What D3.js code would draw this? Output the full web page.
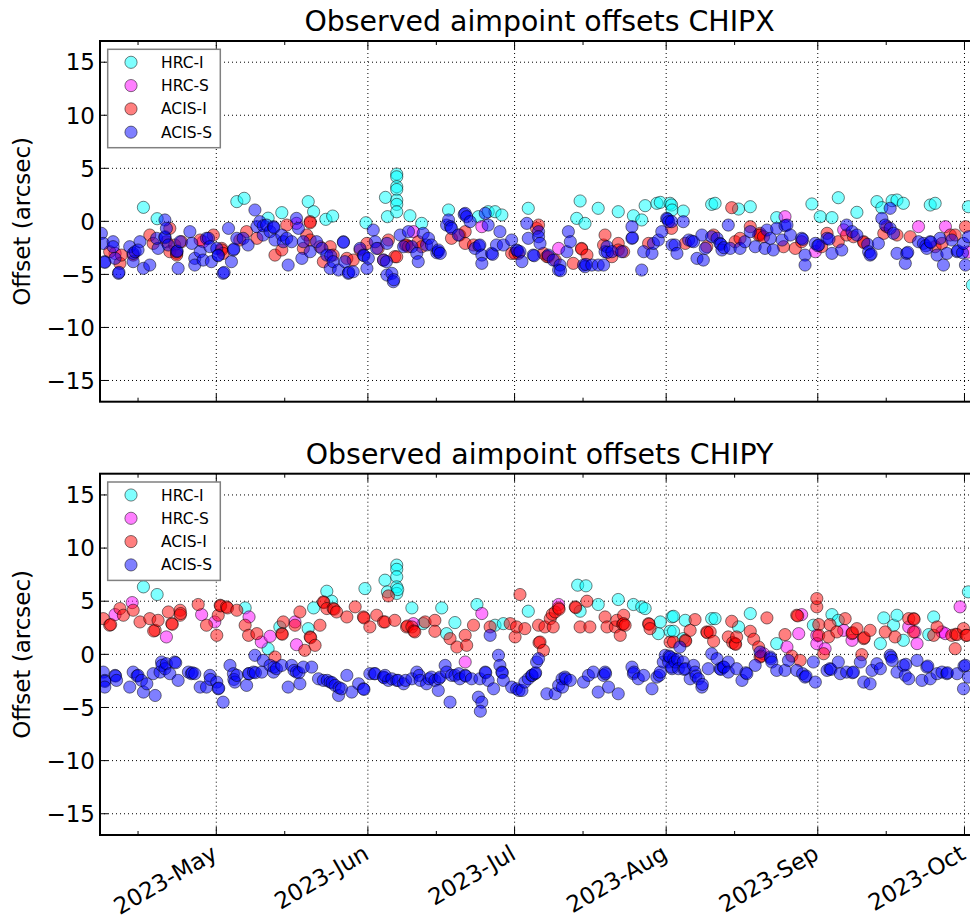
<!DOCTYPE html>
<html><head><meta charset="utf-8">
<script src="https://cdn.jsdelivr.net/npm/d3@7"></script>
<style>body{margin:0;background:#fff}svg{display:block;font-family:"DejaVu Sans",sans-serif}</style>
</head><body><svg id="c" width="970" height="920"></svg>
<script>
// Values are [day of year 2023 (decimal), offset in arcsec]
const chipxHrcI = [[106.1,1.32],[108.9,0.25],[125.2,1.86],[126.7,2.17],[131.6,0.3],[134.4,0.82],[139.8,1.86],[140.9,0.91],[143.4,0.19],[144.8,0.5],[151.6,-0.13],[155.6,2.26],[156.0,0.44],[157.9,4.46],[157.9,4.2],[157.9,3.27],[157.9,3.0],[157.9,2.0],[157.9,1.6],[157.9,0.9],[160.6,0.53],[163.0,-0.19],[168.5,1.07],[174.6,0.44],[176.6,0.91],[178.0,0.91],[179.4,0.6],[184.8,1.23],[195.4,1.92],[194.7,0.28],[196.4,-0.19],[199.1,1.23],[203.2,0.91],[206.3,0.53],[208.0,0.13],[208.7,1.48],[211.1,1.7],[211.8,1.79],[213.8,1.7],[214.1,1.54],[214.2,1.07],[216.5,0.97],[222.3,1.6],[223.0,1.7],[227.8,1.16],[230.2,1.38],[235.6,0.35],[242.8,1.64],[244.5,0.44],[246.9,0.35],[248.2,2.23],[252.0,0.85],[256.1,1.86],[257.1,1.29],[259.2,1.95],[260.2,2.01],[261.5,1.7],[267.0,1.54],[268.0,1.7],[274.8,1.38],[275.6,-6.0]];
const chipxHrcS = [[100.3,-3.02],[118.3,-1.92],[137.4,-0.19],[161.3,-0.97],[175.3,-0.5],[191.0,-2.55],[237.3,0.44],[243.5,-2.86],[249.3,-0.8],[264.6,-0.5],[270.1,-0.5],[274.7,-2.9]];
const chipxAcisI = [[99.2,-2.86],[101.3,-3.96],[101.6,-3.18],[104.0,-3.18],[107.4,-1.29],[108.1,-2.08],[110.8,-1.92],[111.5,-0.66],[111.5,-2.86],[112.5,-2.23],[112.9,-3.02],[112.9,-3.18],[113.9,-1.92],[117.7,-1.76],[120.4,-1.29],[122.1,-2.55],[122.1,-2.7],[122.4,-3.02],[125.8,-1.76],[127.2,-0.97],[129.3,-1.6],[133.0,-3.18],[134.4,-2.7],[135.4,-0.35],[138.8,-2.55],[139.5,-1.29],[140.2,-0.03],[140.2,-0.13],[140.2,-1.76],[142.2,-2.39],[142.9,-3.8],[144.3,-2.39],[144.9,-3.18],[147.7,-3.49],[149.0,-3.65],[150.4,-2.7],[151.8,-2.08],[154.1,-2.55],[155.2,-3.65],[156.2,-1.76],[157.5,-3.33],[157.9,-3.34],[159.6,-2.23],[159.9,-2.23],[160.3,-2.39],[162.3,-1.92],[163.0,-2.39],[169.1,-1.6],[170.8,-1.29],[171.9,-0.97],[171.9,-2.08],[173.6,-2.23],[181.4,-3.02],[182.1,-3.02],[182.8,-3.02],[186.5,-0.66],[186.9,-0.35],[187.9,-3.02],[188.6,-3.33],[188.9,-3.33],[190.3,-3.65],[194.0,-3.96],[195.7,-2.55],[195.7,-2.61],[196.8,-3.18],[200.2,-2.23],[200.5,-1.29],[201.9,-3.33],[203.2,-2.08],[203.2,-2.7],[204.3,-2.86],[209.4,-2.08],[214.1,-0.66],[216.9,-2.08],[221.3,-2.39],[222.7,-1.29],[226.4,1.29],[227.1,-1.92],[228.1,-1.6],[230.2,-0.5],[231.9,-1.29],[232.2,-1.13],[232.2,-1.29],[232.9,-1.45],[237.0,-2.39],[239.4,-2.55],[240.7,-1.92],[244.8,-2.39],[245.9,-1.13],[248.2,-1.92],[249.9,-1.29],[251.3,-1.45],[253.4,-1.92],[253.4,-2.0],[257.5,-1.13],[258.1,-0.5],[260.2,-1.29],[262.9,-1.45],[268.0,-2.39],[269.4,-2.08],[271.1,-1.29],[272.1,-1.29],[274.2,-0.5]];
const chipxAcisS = [[97.5,-1.13],[97.9,-2.08],[98.2,-3.8],[98.2,-3.87],[99.9,-1.92],[99.9,-2.39],[100.3,-3.49],[101.0,-4.9],[101.1,-4.81],[103.3,-2.39],[104.0,-3.8],[104.0,-3.02],[104.4,-2.86],[105.4,-1.92],[105.0,-2.7],[106.1,-4.43],[107.4,-4.12],[109.1,-2.55],[108.8,-1.6],[110.5,0.13],[110.5,-1.45],[110.5,-1.54],[111.2,-2.23],[110.8,-0.66],[112.9,-2.86],[113.0,-2.8],[113.2,-4.43],[113.6,-1.92],[115.6,-0.97],[116.0,-2.08],[116.6,-3.49],[116.6,-4.12],[117.7,-2.86],[118.3,-3.65],[119.0,-1.6],[119.4,-1.6],[119.7,-2.39],[120.0,-3.8],[121.1,-2.55],[121.4,-3.18],[121.4,-3.24],[122.4,-4.9],[122.6,-4.81],[123.5,-0.66],[124.1,-3.8],[124.5,-2.7],[124.6,-2.61],[125.2,-1.6],[126.5,-1.6],[127.5,-2.23],[128.9,1.07],[129.3,-0.5],[129.9,-0.03],[130.6,-1.29],[130.6,-0.41],[131.3,-0.35],[132.0,-0.97],[132.7,-0.5],[132.8,-0.6],[133.0,-1.76],[134.4,-1.29],[134.7,-1.92],[135.4,-1.6],[135.7,-4.12],[136.4,-1.92],[137.4,0.28],[137.8,-0.66],[138.5,-3.49],[138.8,-1.92],[140.2,-2.86],[141.5,-1.92],[142.6,-2.55],[143.6,-3.18],[144.3,-4.43],[144.4,-3.24],[144.9,-3.8],[146.0,-4.59],[147.0,-1.92],[147.0,-1.98],[147.3,-3.8],[148.0,-4.9],[148.1,-4.81],[149.0,-4.75],[150.4,-2.55],[151.1,-3.18],[151.2,-3.24],[151.8,-4.43],[152.1,-3.49],[153.1,-0.82],[153.5,-1.92],[153.8,-2.55],[155.2,-3.65],[155.9,-2.08],[155.9,-5.06],[155.8,-3.8],[156.9,-4.9],[157.2,-5.69],[157.3,-5.5],[158.6,-1.29],[159.3,-2.39],[160.3,-0.97],[161.0,-2.39],[162.0,-3.02],[162.3,-3.8],[163.3,-1.13],[164.0,-2.23],[164.4,-1.6],[165.0,-2.23],[166.1,-2.96],[166.4,-2.86],[166.4,-2.7],[166.8,-3.02],[168.1,-0.35],[168.5,0.13],[168.9,-0.5],[169.1,-0.66],[170.5,-1.29],[171.7,0.66],[171.9,0.75],[172.2,0.44],[172.9,-0.03],[173.9,-2.55],[174.7,-2.3],[174.9,-2.23],[175.3,-3.18],[175.3,-3.96],[176.0,0.75],[176.6,-0.35],[177.3,-3.02],[177.5,-3.11],[178.3,-2.23],[179.0,-0.97],[179.7,-2.23],[181.4,-1.76],[182.4,-2.7],[182.6,-2.77],[183.1,-2.86],[183.5,-3.8],[184.5,-0.19],[184.8,-1.6],[185.8,-3.18],[186.0,-3.24],[186.9,-0.97],[186.9,-1.45],[187.2,-2.08],[188.9,-3.18],[189.9,-3.65],[191.0,-4.59],[191.3,-4.12],[191.4,-4.65],[192.7,-2.86],[193.0,-0.97],[193.4,-1.92],[196.1,-4.12],[196.4,-4.28],[196.6,-4.06],[197.8,-4.12],[199.1,-4.12],[200.2,-4.12],[200.5,-2.86],[200.9,-2.39],[201.0,-2.92],[201.9,-2.86],[203.9,-2.86],[206.0,-1.6],[206.1,-1.54],[206.0,-0.5],[208.0,-4.59],[208.4,-2.86],[210.1,-3.02],[210.4,-2.08],[211.4,-1.76],[212.1,-0.97],[213.1,0.28],[213.3,0.22],[213.5,-0.03],[214.2,-2.23],[214.1,-0.03],[214.8,-2.23],[215.2,-3.02],[216.5,-0.03],[217.6,-1.76],[218.2,-1.86],[218.6,-1.92],[219.3,-3.49],[220.3,-1.29],[220.6,-3.65],[221.0,-2.55],[222.3,-1.45],[223.4,-1.6],[224.0,-2.08],[224.2,-2.17],[224.4,-2.7],[224.8,-2.48],[225.7,-0.35],[226.1,-2.55],[228.1,-2.55],[229.1,-1.92],[230.2,-0.97],[231.2,-2.39],[233.2,-2.55],[233.6,-0.82],[234.3,-1.6],[234.9,-2.7],[235.6,-0.66],[236.7,-1.76],[237.3,-0.41],[237.7,-0.35],[238.4,-1.29],[240.7,-1.6],[240.9,-1.7],[241.4,-3.18],[241.4,-4.12],[243.5,-2.08],[244.0,-2.3],[244.2,-2.23],[245.9,-1.6],[246.3,-1.67],[246.9,-3.02],[248.9,-2.7],[249.9,-0.35],[251.0,-0.97],[252.0,-1.29],[254.2,-2.17],[254.4,-2.86],[254.7,-3.18],[254.9,-3.08],[256.4,-2.08],[257.1,0.28],[257.8,-0.35],[258.8,-0.66],[258.8,1.23],[259.5,-1.13],[260.2,-3.02],[261.9,-3.96],[262.2,-3.02],[262.4,-2.92],[264.6,-1.92],[265.6,-2.08],[266.1,-2.3],[266.3,-2.55],[267.0,-1.92],[267.1,-1.98],[268.4,-3.18],[269.0,-1.6],[269.7,-4.12],[270.4,-3.02],[271.4,-1.76],[272.5,-2.86],[272.6,-2.77],[273.6,-2.96],[273.8,-2.08],[274.2,-4.12],[274.8,-1.45]];

const chipyHrcI = [[106.1,6.35],[108.9,5.63],[126.9,4.37],[131.6,0.53],[134.0,2.58],[139.8,2.42],[140.9,4.37],[143.6,5.94],[144.6,5.0],[151.4,6.19],[155.5,6.98],[156.0,5.88],[157.9,8.4],[157.9,8.0],[157.9,7.3],[157.9,6.35],[157.9,5.73],[158.1,6.1],[161.0,4.37],[163.3,2.89],[167.1,4.37],[168.1,1.95],[169.8,2.99],[174.3,4.69],[178.0,2.74],[179.7,2.89],[184.8,4.06],[194.9,6.51],[196.6,6.45],[195.4,4.06],[199.1,4.69],[203.2,5.16],[206.3,4.69],[208.0,4.47],[208.7,4.31],[211.4,1.95],[211.8,3.05],[213.8,2.17],[214.2,3.52],[214.5,3.58],[214.5,2.17],[216.5,1.48],[216.9,3.2],[222.3,3.36],[223.0,3.36],[227.8,2.58],[230.2,3.84],[235.6,1.01],[243.1,2.74],[246.9,3.74],[248.2,3.2],[256.8,1.01],[257.5,3.43],[259.5,2.74],[260.2,3.68],[261.5,1.32],[266.7,1.86],[267.7,3.52],[274.8,5.88]];
const chipyHrcS = [[100.3,3.74],[103.8,4.87],[110.8,1.64],[118.0,3.74],[120.7,3.05],[127.7,3.52],[130.2,1.16],[132.0,1.7],[137.1,3.05],[137.4,0.91],[161.3,2.89],[171.9,-0.72],[175.3,3.84],[191.0,4.69],[232.9,0.06],[237.7,0.69],[240.1,1.95],[240.7,3.74],[243.8,1.79],[243.8,1.01],[245.5,0.53],[249.3,2.26],[251.0,1.32],[262.6,2.58],[263.9,2.11],[264.3,1.01],[269.4,2.11],[270.1,1.95],[273.1,4.47]];
const chipyAcisI = [[97.9,3.36],[99.2,2.74],[99.4,2.8],[101.3,4.31],[102.0,3.68],[104.0,4.15],[105.4,3.05],[107.4,3.36],[108.5,2.26],[108.2,2.2],[109.1,3.2],[111.2,3.99],[111.9,2.89],[112.0,2.83],[113.6,4.15],[113.6,3.68],[113.7,3.84],[117.3,4.69],[119.0,2.74],[121.1,1.79],[121.4,3.68],[121.8,4.62],[121.9,4.56],[123.1,4.47],[123.3,4.37],[125.2,4.15],[126.9,2.74],[127.6,1.79],[129.3,1.95],[133.0,-0.25],[134.4,1.95],[134.5,1.89],[134.7,3.05],[137.1,2.74],[138.1,3.99],[139.1,0.38],[140.2,1.64],[140.3,1.57],[141.2,0.85],[142.2,2.74],[142.9,4.94],[143.0,4.87],[143.6,4.31],[144.9,4.31],[145.1,4.25],[145.6,3.99],[147.7,3.52],[149.4,4.47],[151.1,3.52],[151.2,3.43],[152.4,2.58],[153.8,3.68],[155.2,3.05],[155.5,3.05],[156.2,5.5],[157.5,3.2],[159.9,2.58],[160.1,2.67],[161.0,2.58],[161.4,2.2],[161.6,2.11],[163.7,3.05],[165.7,3.2],[165.7,2.17],[168.8,1.48],[170.2,0.69],[171.9,1.79],[172.2,0.85],[173.6,2.74],[177.0,2.58],[181.1,2.89],[182.1,1.64],[182.4,2.58],[184.1,2.42],[183.1,5.63],[186.9,2.74],[187.0,1.1],[187.2,1.16],[187.9,0.38],[188.2,2.58],[189.3,3.36],[189.7,3.77],[189.9,2.58],[190.3,3.99],[191.0,4.37],[191.1,4.25],[194.4,4.47],[194.5,4.4],[195.4,2.58],[196.8,5.0],[197.4,2.58],[200.5,3.52],[200.9,2.58],[202.6,2.58],[202.9,3.2],[203.6,1.79],[204.1,2.83],[204.3,3.68],[204.3,2.89],[204.6,2.74],[209.4,2.89],[209.5,2.83],[209.7,2.42],[213.8,1.16],[214.5,1.16],[216.9,1.32],[217.0,1.26],[217.9,2.26],[218.9,3.27],[221.3,2.11],[221.4,2.04],[222.0,2.11],[222.7,1.23],[226.4,3.11],[225.7,1.64],[226.6,1.1],[227.1,1.01],[227.2,0.94],[227.4,1.64],[230.2,2.17],[230.9,1.42],[231.9,0.69],[232.2,-0.25],[232.4,-0.16],[233.6,3.43],[237.3,1.86],[238.7,-0.16],[240.4,-0.57],[239.7,3.68],[239.9,3.62],[243.8,4.47],[243.8,5.25],[244.2,2.8],[244.2,1.79],[245.2,0.06],[246.5,2.8],[246.2,1.64],[247.9,2.11],[249.6,3.36],[251.0,1.95],[251.1,2.04],[252.0,2.42],[253.0,-0.03],[253.4,1.48],[253.5,1.57],[254.7,2.26],[257.8,2.11],[259.8,1.64],[262.6,3.36],[263.6,3.36],[263.7,3.3],[263.6,2.11],[267.7,1.79],[268.4,2.58],[271.4,1.79],[272.1,0.53],[272.2,1.89],[272.5,1.86],[273.8,2.42],[274.3,1.79],[274.5,1.79]];
const chipyAcisS = [[97.9,-1.67],[98.2,-2.45],[98.2,-2.55],[98.2,-3.08],[100.3,-1.98],[100.4,-2.04],[100.6,-2.45],[103.3,-3.08],[104.0,-1.67],[104.8,-2.04],[105.0,-1.98],[105.7,-2.45],[106.1,-3.55],[106.8,-2.77],[108.1,-1.82],[108.5,-3.87],[109.5,-1.67],[109.8,-0.72],[109.9,-1.04],[110.5,-1.35],[110.8,-0.88],[111.5,-1.82],[112.5,-0.72],[112.7,-0.79],[113.2,-2.45],[115.3,-1.67],[115.9,-1.82],[116.1,-1.73],[116.6,-1.82],[117.7,-3.08],[119.0,-3.08],[119.7,-1.98],[119.8,-2.36],[121.1,-2.61],[121.4,-3.24],[121.5,-3.18],[122.4,-4.5],[123.8,-1.04],[124.5,-1.82],[124.6,-2.36],[124.8,-2.61],[125.2,-1.98],[127.2,-2.92],[127.6,-1.82],[127.7,-1.82],[128.6,-1.67],[128.9,-0.09],[129.0,-1.73],[130.3,-1.67],[130.6,-0.57],[132.0,-1.04],[132.7,-1.67],[132.8,-1.2],[133.3,-1.35],[134.4,-1.04],[135.7,-3.08],[136.4,-1.04],[136.9,-1.51],[137.4,-1.67],[137.9,-1.73],[138.1,-2.77],[138.8,-1.2],[140.5,-1.2],[141.9,-2.3],[142.9,-2.45],[143.7,-2.45],[144.3,-2.61],[144.7,-2.67],[145.3,-2.92],[146.0,-3.87],[146.1,-3.14],[146.6,-3.24],[147.7,-1.98],[148.7,-3.55],[150.1,-2.77],[151.1,-3.24],[151.2,-3.3],[152.4,-1.82],[153.3,-1.82],[153.5,-1.82],[155.2,-2.14],[155.3,-2.2],[156.2,-2.45],[155.5,-1.98],[156.9,-2.3],[157.9,-2.45],[158.2,-2.45],[159.3,-2.77],[159.7,-2.45],[161.0,-2.3],[162.0,-1.67],[162.5,-1.98],[162.7,-2.45],[164.0,-2.77],[164.5,-2.3],[165.0,-2.14],[165.7,-2.45],[166.4,-3.4],[166.5,-2.3],[166.8,-2.14],[167.8,-1.04],[168.1,-1.67],[168.8,-4.5],[169.1,-1.98],[169.8,-1.98],[170.6,-1.82],[170.8,-2.3],[171.9,-1.98],[172.0,-2.04],[173.2,-2.3],[174.6,-4.03],[175.3,-4.5],[175.0,-5.35],[174.9,-2.3],[176.0,-1.67],[176.1,-1.73],[176.6,-2.45],[177.0,1.79],[177.7,-3.24],[178.7,-0.09],[179.0,-1.04],[179.4,-1.67],[179.5,-1.73],[179.7,-2.45],[181.4,-3.08],[182.4,-3.24],[182.9,-3.4],[183.5,-3.4],[184.1,-2.61],[184.8,-2.3],[185.5,-1.98],[185.6,-1.98],[186.2,-1.82],[186.3,-1.73],[186.5,-0.72],[186.9,-0.41],[188.6,-3.71],[190.3,-3.71],[191.0,-2.92],[191.7,-2.3],[191.8,-3.08],[192.3,-2.14],[192.5,-2.3],[193.4,-2.45],[196.1,-2.61],[197.1,-1.98],[198.1,-1.67],[199.1,-3.55],[200.2,-1.98],[200.5,-1.67],[200.6,-1.82],[201.2,-3.08],[203.2,-3.71],[206.0,-1.2],[206.3,-1.82],[206.4,-1.67],[207.3,-2.3],[208.4,-1.98],[210.1,-3.24],[211.1,-2.14],[211.6,-1.98],[211.8,-1.67],[212.4,-0.72],[212.8,-0.09],[213.5,-0.72],[213.6,-0.16],[214.2,-1.35],[214.5,-0.41],[213.8,-0.25],[214.1,-1.2],[214.8,-0.72],[215.3,-0.47],[215.5,-1.35],[215.8,0.69],[216.5,-0.72],[216.7,-1.42],[216.9,-1.35],[217.9,-2.3],[218.6,-1.04],[218.9,-1.67],[219.1,-2.04],[219.6,-2.3],[220.3,-3.08],[220.4,-2.83],[221.6,-1.35],[222.3,0.06],[223.4,-0.41],[224.0,-1.35],[224.2,-1.42],[224.7,-1.2],[224.8,-1.2],[225.7,-0.72],[225.7,-1.67],[227.4,-1.35],[228.5,-2.45],[229.3,-1.73],[229.5,-1.82],[231.2,-1.04],[232.2,0.22],[234.3,-0.25],[234.4,-0.41],[234.6,-0.72],[235.6,-1.51],[237.3,-1.51],[238.0,-0.57],[239.7,-1.51],[240.9,-1.82],[241.4,-2.14],[241.6,-2.04],[243.1,-0.72],[243.5,-2.61],[245.9,-1.51],[246.5,-1.35],[246.7,-1.42],[248.2,-0.72],[248.6,-1.82],[249.9,-1.67],[251.1,-1.73],[251.3,-1.67],[252.7,-0.72],[253.4,-2.61],[254.7,-2.77],[255.1,-1.51],[256.1,-0.88],[256.8,-1.35],[258.8,-0.09],[259.0,-0.25],[259.2,-0.57],[260.2,-1.67],[261.5,-1.04],[261.9,-1.98],[262.0,-0.94],[262.6,-2.3],[264.3,-0.57],[265.3,-2.45],[266.3,-1.2],[266.5,-1.1],[267.0,-2.3],[268.4,-1.82],[269.4,-1.67],[270.4,-1.82],[270.5,-1.73],[272.5,-1.82],[273.9,-1.1],[274.2,-1.04],[273.8,-3.24],[274.8,-2.14]];

const detectorNames = ["HRC-I","HRC-S","ACIS-I","ACIS-S"];
const detectorColors = ["#00ffff","#ff00ff","#ff0000","#0000ff"];
const panelTitles = ["Observed aimpoint offsets CHIPX","Observed aimpoint offsets CHIPY"];
const yTickValues = [-15,-10,-5,0,5,10,15];
const monthTickDates = ["2023-05-01","2023-06-01","2023-07-01","2023-08-01","2023-09-01","2023-10-01"];
const monthTickLabels = ["2023-May","2023-Jun","2023-Jul","2023-Aug","2023-Sep","2023-Oct"];
const minorTickDates = ["2023-04-15","2023-05-15","2023-06-15","2023-07-15","2023-08-15","2023-09-15"];
const xDomainDoy = [97.22, 276.97];
const yDomain = [-17, 17];

const panels = [
  {title: panelTitles[0], series: [chipxHrcI, chipxHrcS, chipxAcisI, chipxAcisS], top: 41, bottom: 401.7},
  {title: panelTitles[1], series: [chipyHrcI, chipyHrcS, chipyAcisI, chipyAcisS], top: 473.7, bottom: 835}
];

const doyToDate = d => new Date(Date.UTC(2023,0,1) + (d-1)*864e5);
const parse = d3.utcParse("%Y-%m-%d");
const L = 100, R = 979;
const x = d3.scaleUtc().domain(xDomainDoy.map(doyToDate)).range([L, R]);
const svg = d3.select("#c");
const fmt = d3.format("d");
const MR = 6.1;

panels.forEach((p, pi) => {
  const y = d3.scaleLinear().domain(yDomain).range([p.bottom, p.top]);
  const g = svg.append("g");
  const cid = "clip" + pi;
  svg.append("clipPath").attr("id", cid).append("rect")
    .attr("x", L).attr("y", p.top).attr("width", R - L).attr("height", p.bottom - p.top);

  const grid = g.append("g").attr("stroke", "#000").attr("stroke-width", 1).attr("stroke-dasharray", "1,3");
  yTickValues.forEach(v => grid.append("line").attr("x1", L).attr("x2", R).attr("y1", y(v)).attr("y2", y(v)));
  monthTickDates.forEach(d => grid.append("line").attr("x1", x(parse(d))).attr("x2", x(parse(d))).attr("y1", p.top).attr("y2", p.bottom));

  const pts = g.append("g").attr("clip-path", `url(#${cid})`);
  p.series.forEach((s, si) => {
    pts.selectAll(null).data(s).enter().append("circle")
      .attr("cx", d => x(doyToDate(d[0]))).attr("cy", d => y(d[1])).attr("r", MR)
      .attr("fill", detectorColors[si]).attr("fill-opacity", 0.5)
      .attr("stroke", "#000").attr("stroke-opacity", 0.5).attr("stroke-width", 1);
  });

  const tk = g.append("g").attr("stroke", "#000").attr("stroke-width", 1);
  yTickValues.forEach(v => {
    tk.append("line").attr("x1", L).attr("x2", L + 8).attr("y1", y(v)).attr("y2", y(v));
    tk.append("line").attr("x1", R).attr("x2", R - 8).attr("y1", y(v)).attr("y2", y(v));
  });
  monthTickDates.forEach(d => {
    const xx = x(parse(d));
    tk.append("line").attr("x1", xx).attr("x2", xx).attr("y1", p.top).attr("y2", p.top + 8);
    tk.append("line").attr("x1", xx).attr("x2", xx).attr("y1", p.bottom).attr("y2", p.bottom - 8);
  });
  minorTickDates.forEach(d => {
    const xx = x(parse(d));
    tk.append("line").attr("x1", xx).attr("x2", xx).attr("y1", p.top).attr("y2", p.top + 4);
    tk.append("line").attr("x1", xx).attr("x2", xx).attr("y1", p.bottom).attr("y2", p.bottom - 4);
  });

  g.append("rect").attr("x", L).attr("y", p.top).attr("width", R - L).attr("height", p.bottom - p.top)
    .attr("fill", "none").attr("stroke", "#000").attr("stroke-width", 2);

  yTickValues.forEach(v => {
    g.append("text").attr("x", L - 5).attr("y", y(v)).attr("dy", "0.36em")
      .attr("text-anchor", "end").attr("font-size", 23).text(fmt(v));
  });
  g.append("text").attr("transform", `translate(30,${(p.top + p.bottom) / 2}) rotate(-90)`)
    .attr("text-anchor", "middle").attr("font-size", 23).text("Offset (arcsec)");
  g.append("text").attr("x", (L + R) / 2).attr("y", p.top - 10).attr("text-anchor", "middle")
    .attr("font-size", 28.4).text(p.title);

  const lg = g.append("g");
  lg.append("rect").attr("x", 107.7).attr("y", p.top + 8.3).attr("width", 112.6).attr("height", 98.4)
    .attr("fill", "#fff").attr("stroke", "#808080").attr("stroke-width", 1.5);
  detectorNames.forEach((n, i) => {
    const yy = p.top + 21.3 + i * 23.3;
    lg.append("circle").attr("cx", 131).attr("cy", yy).attr("r", MR)
      .attr("fill", detectorColors[i]).attr("fill-opacity", 0.5)
      .attr("stroke", "#000").attr("stroke-opacity", 0.5).attr("stroke-width", 1);
    lg.append("text").attr("x", 161).attr("y", yy).attr("dy", "0.36em").attr("font-size", 15.5).text(n);
  });

  if (pi === 1) {
    monthTickDates.forEach((d, i) => {
      const xx = x(parse(d));
      g.append("text").attr("transform", `translate(${xx - 6},${p.bottom + 8}) rotate(-30)`)
        .attr("text-anchor", "end").attr("dy", "0.75em").attr("font-size", 23).text(monthTickLabels[i]);
    });
  }
});
</script></body></html>
